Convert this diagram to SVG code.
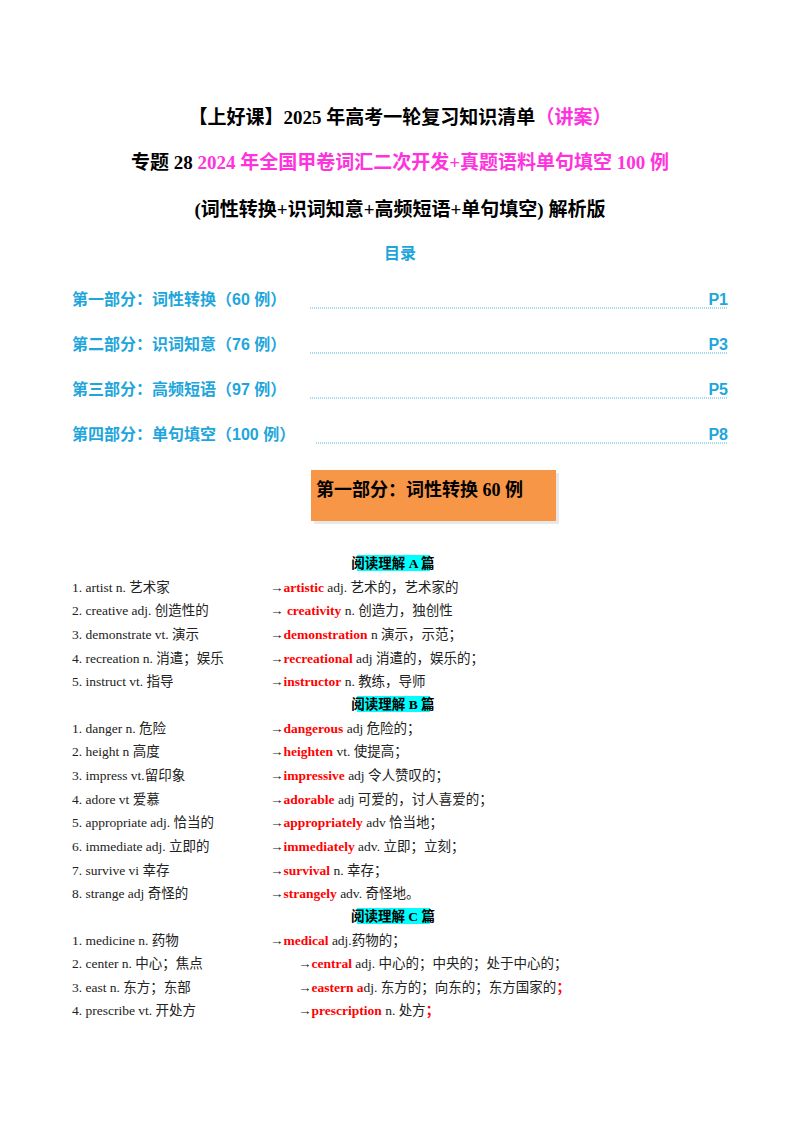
<svg xmlns="http://www.w3.org/2000/svg" width="800" height="1132" viewBox="0 0 800 1132">
<style>
.t{font-family:"Liberation Serif","Noto Sans CJK SC",serif;font-weight:bold;font-size:19px;fill:#000}
.m{fill:#ff33dd}
.toc{font-family:"Liberation Sans","Noto Sans CJK SC",sans-serif;font-weight:bold;font-size:16px;fill:#1ea6dc}
.dl{stroke:#1ea6dc;stroke-width:0.8;stroke-dasharray:1 1}
.b{font-family:"Liberation Serif","Noto Sans CJK SC",serif;font-size:13.5px;fill:#222}
.r{fill:#ff0000;font-weight:bold}
.h{font-family:"Liberation Serif","Noto Sans CJK SC",serif;font-size:13.5px;font-weight:bold;fill:#000}
</style>
<rect width="800" height="1132" fill="#fff"/>
<g id="titles">
<text class="t" x="400" y="124" text-anchor="middle">【上好课】2025 年高考一轮复习知识清单<tspan class="m">（讲案）</tspan></text>
<text class="t" x="400" y="169" text-anchor="middle">专题 28 <tspan class="m">2024 年全国甲卷词汇二次开发+真题语料单句填空 100 例</tspan></text>
<text class="t" x="400" y="216" text-anchor="middle">(词性转换+识词知意+高频短语+单句填空) 解析版</text>
<text class="toc" x="400" y="259" text-anchor="middle">目录</text>
</g>
<g id="toc">
<text class="toc" x="72" y="305">第一部分：词性转换（60 例）</text><line class="dl" x1="310" y1="308" x2="728" y2="308"/><text class="toc" x="728" y="305" text-anchor="end">P1</text>
<text class="toc" x="72" y="350">第二部分：识词知意（76 例）</text><line class="dl" x1="310" y1="353" x2="728" y2="353"/><text class="toc" x="728" y="350" text-anchor="end">P3</text>
<text class="toc" x="72" y="395">第三部分：高频短语（97 例）</text><line class="dl" x1="310" y1="398" x2="728" y2="398"/><text class="toc" x="728" y="395" text-anchor="end">P5</text>
<text class="toc" x="72" y="440">第四部分：单句填空（100 例）</text><line class="dl" x1="316" y1="443" x2="728" y2="443"/><text class="toc" x="728" y="440" text-anchor="end">P8</text>
</g>
<g id="box">
<rect x="314" y="473" width="245" height="51" fill="#e8e8e8"/>
<rect x="311" y="470" width="245" height="51" fill="#f79646"/>
<text class="t" x="316" y="496" style="font-size:18px">第一部分：词性转换 60 例</text>
</g>
<g id="list">
<rect x="357" y="555" width="73" height="16" fill="#00ffff"/><text class="h" x="393" y="568" text-anchor="middle">阅读理解 A 篇</text>
<text class="b" x="72" y="592">1. artist n.  艺术家</text><text class="b" x="270" y="592">→<tspan class="r">artistic</tspan>  adj. 艺术的，艺术家的</text>
<text class="b" x="72" y="615">2. creative adj. 创造性的</text><text class="b" x="270" y="615">→  <tspan class="r">creativity</tspan>  n. 创造力，独创性</text>
<text class="b" x="72" y="639">3. demonstrate vt.  演示</text><text class="b" x="270" y="639">→<tspan class="r">demonstration</tspan>  n  演示，示范；</text>
<text class="b" x="72" y="663">4. recreation n.    消遣；娱乐</text><text class="b" x="270" y="663">→<tspan class="r">recreational</tspan>  adj 消遣的，娱乐的；</text>
<text class="b" x="72" y="686">5. instruct vt.  指导</text><text class="b" x="270" y="686">→<tspan class="r">instructor</tspan>  n. 教练，导师</text>
<rect x="357" y="696" width="73" height="16" fill="#00ffff"/><text class="h" x="393" y="709" text-anchor="middle">阅读理解 B 篇</text>
<text class="b" x="72" y="733">1. danger n.  危险</text><text class="b" x="270" y="733">→<tspan class="r">dangerous</tspan>  adj  危险的；</text>
<text class="b" x="72" y="756">2. height n  高度</text><text class="b" x="270" y="756">→<tspan class="r">heighten</tspan>  vt.  使提高；</text>
<text class="b" x="72" y="780">3. impress vt.留印象</text><text class="b" x="270" y="780">→<tspan class="r">impressive</tspan>  adj  令人赞叹的；</text>
<text class="b" x="72" y="804">4. adore vt  爱慕</text><text class="b" x="270" y="804">→<tspan class="r">adorable</tspan>  adj  可爱的，讨人喜爱的；</text>
<text class="b" x="72" y="827">5. appropriate adj.  恰当的</text><text class="b" x="270" y="827">→<tspan class="r">appropriately</tspan>  adv 恰当地；</text>
<text class="b" x="72" y="851">6. immediate adj.  立即的</text><text class="b" x="270" y="851">→<tspan class="r">immediately</tspan>  adv.  立即；立刻；</text>
<text class="b" x="72" y="875">7. survive vi  幸存</text><text class="b" x="270" y="875">→<tspan class="r">survival</tspan>  n.  幸存；</text>
<text class="b" x="72" y="898">8. strange adj  奇怪的</text><text class="b" x="270" y="898">→<tspan class="r">strangely</tspan>  adv.  奇怪地。</text>
<rect x="357" y="908" width="73" height="16" fill="#00ffff"/><text class="h" x="393" y="921" text-anchor="middle">阅读理解 C 篇</text>
<text class="b" x="72" y="945">1.  medicine  n.  药物</text><text class="b" x="270" y="945">→<tspan class="r">medical</tspan>  adj.药物的；</text>
<text class="b" x="72" y="968">2.  center  n.  中心；焦点</text><text class="b" x="298" y="968">→<tspan class="r">central</tspan>  adj.  中心的；中央的；处于中心的；</text>
<text class="b" x="72" y="992">3.  east  n.  东方；东部</text><text class="b" x="298" y="992">→<tspan class="r">eastern  a</tspan>dj.  东方的；向东的；东方国家的<tspan class="r">；</tspan></text>
<text class="b" x="72" y="1015">4.  prescribe  vt.  开处方</text><text class="b" x="298" y="1015">→<tspan class="r">prescription</tspan>  n.  处方<tspan class="r">；</tspan></text>
</g>
</svg>
